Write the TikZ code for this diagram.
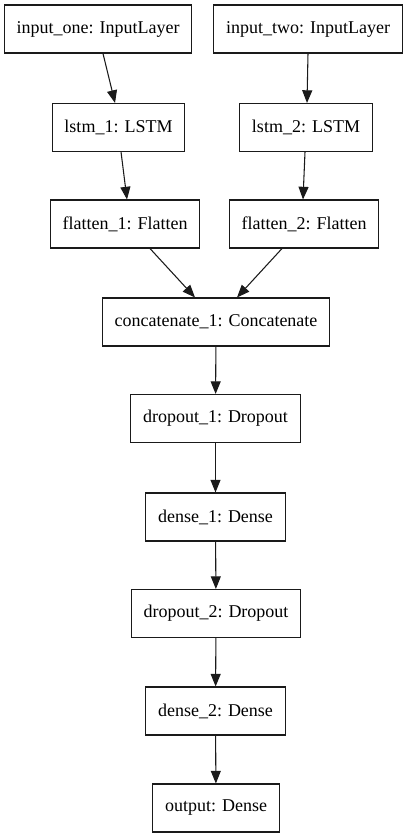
\documentclass[tikz,border=0pt]{standalone}
\usepackage{fontspec}
\setmainfont{Liberation Serif}
\usepackage{xcolor}
\usepackage{tikz}
\usetikzlibrary{arrows.meta}
\definecolor{edgegray}{HTML}{1A1A1A}
\tikzset{
  every node/.append style={font=\fontsize{13.5}{16}\selectfont},
  layerbox/.style={draw=edgegray,line width=0.8pt,inner xsep=9.2pt,minimum height=36pt},
  edge/.style={draw=edgegray,line width=0.8pt,-{Triangle[length=9.5pt,width=7.5pt]}}
}

\begin{document}
\begin{tikzpicture}[x=0.75pt,y=-0.75pt]
  \useasboundingbox (0,0) rectangle (408,839);
  % two input branches
  \node[layerbox] (inone) at (98,29) {input\_one: InputLayer};
  \node[layerbox] (intwo) at (308,29) {input\_two: InputLayer};
  \node[layerbox] (lstmone) at (118.5,127.5) {lstm\_1: LSTM};
  \node[layerbox] (lstmtwo) at (306,127.5) {lstm\_2: LSTM};
  \node[layerbox] (flatone) at (125,224) {flatten\_1: Flatten};
  \node[layerbox] (flattwo) at (304,224) {flatten\_2: Flatten};
  % merged trunk
  \node[layerbox] (concat) at (216,322) {concatenate\_1: Concatenate};
  \node[layerbox] (dropone) at (215.5,418.5) {dropout\_1: Dropout};
  \node[layerbox] (denseone) at (215.5,517) {dense\_1: Dense};
  \node[layerbox] (droptwo) at (216,613.5) {dropout\_2: Dropout};
  \node[layerbox] (densetwo) at (215.5,711) {dense\_2: Dense};
  \node[layerbox] (outlayer) at (216,808) {output: Dense};

  \draw[edge] ([xshift=3.75pt]inone.south) -- ([xshift=-2.6pt]lstmone.north);
  \draw[edge] ([xshift=1.9pt]lstmone.south) -- ([xshift=1.5pt]flatone.north);
  \draw[edge] (intwo.south) -- ([xshift=0.75pt]lstmtwo.north);
  \draw[edge] ([xshift=-0.75pt]lstmtwo.south) -- ([xshift=-0.75pt]flattwo.north);
  \draw[edge] ([xshift=18.75pt]flatone.south) -- ([xshift=-15.75pt]concat.north);
  \draw[edge] ([xshift=-16.5pt]flattwo.south) -- ([xshift=15.75pt]concat.north);
  \draw[edge] (concat) -- (dropone);
  \draw[edge] (dropone) -- (denseone);
  \draw[edge] (denseone) -- (droptwo);
  \draw[edge] (droptwo) -- (densetwo);
  \draw[edge] (densetwo) -- (outlayer);
\end{tikzpicture}
\end{document}
